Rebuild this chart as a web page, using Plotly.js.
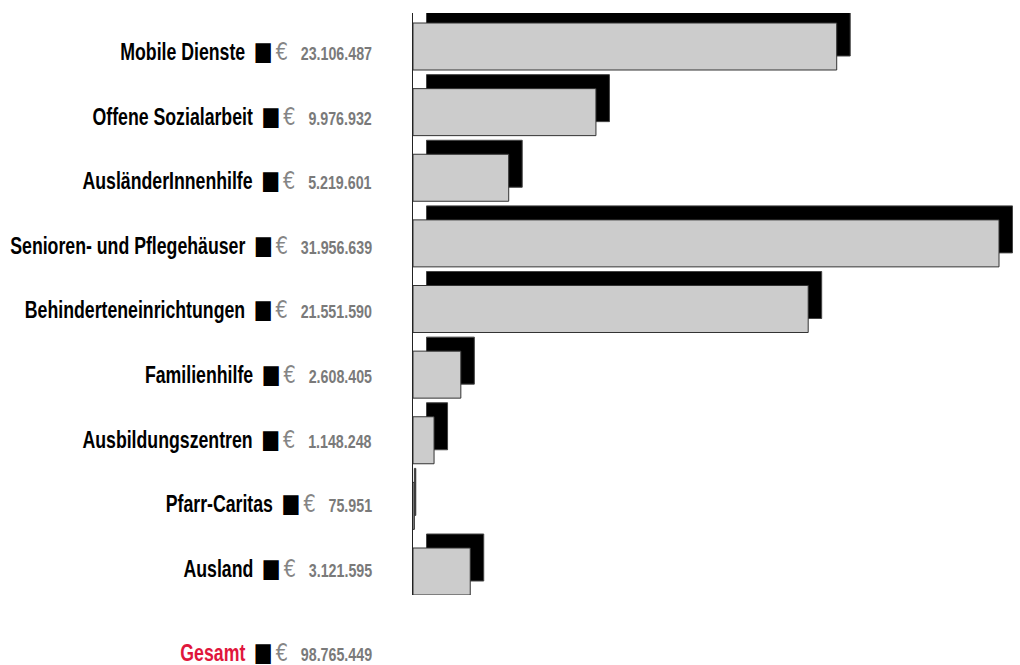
<!DOCTYPE html>
<html>
<head>
<meta charset="utf-8">
<script src="https://cdn.plot.ly/plotly-3.0.1.min.js"></script>
<style>
  html, body { margin: 0; padding: 0; background: #fff; }
  #chart { width: 1020px; height: 665px; }
</style>
</head>
<body>
<div id="chart"></div>
<script>
// ---- data ----
const categories = [
  "Mobile Dienste",
  "Offene Sozialarbeit",
  "AusländerInnenhilfe",
  "Senioren- und Pflegehäuser",
  "Behinderteneinrichtungen",
  "Familienhilfe",
  "Ausbildungszentren",
  "Pfarr-Caritas",
  "Ausland"
];
const values = [23106487, 9976932, 5219601, 31956639, 21551590, 2608405, 1148248, 75951, 3121595];
const totalLabel = "Gesamt";
const totalValue = 98765449;

// ---- layout constants ----
const W = 1020, H = 665;
const mL = 413, mR = 0, mT = 13, mB = 70;
const plotW = W - mL - mR, plotH = H - mT - mB;
const pxPerUnitRef = 586 / Math.max(...values);       // px per euro
const xMax = plotW / pxPerUnitRef;
const rowPitch = 65.625;                                // px per row
const yTop = -(46.5 - mT) / rowPitch;
const yBot = (values.length - 1) + (H - mB - 571.5) / rowPitch;
const barW = 47 / rowPitch;
const shadowDy = 14 / rowPitch;
const shadowDxUnits = 13.5 / pxPerUnitRef;
const SQUEEZE = 0.77;

const idx = categories.map((c, i) => i);
const fmt = n => String(n).replace(/\B(?=(\d{3})+(?!\d))/g, ".");

const FONT = "'Liberation Sans', Arial, sans-serif";

function labelHTML(name, value, nameColor) {
  return "<span style='color:" + nameColor + ";font-weight:bold;font-size:23px'>" + name + "</span>" +
    "<span style='font-size:20px'>&nbsp;&nbsp;</span>" +
    "<span style='font-family:DejaVu Sans;font-size:26px;color:#000'>■</span>" +
    "<span style='font-size:14px'>&nbsp;</span>" +
    "<span style='font-family:DejaVu Sans;font-size:25px;color:#858585;font-weight:normal'>€</span>" +
    "<span style='font-size:20px'>&nbsp;&nbsp;&nbsp;</span>" +
    "<span style='font-size:18.5px;color:#7a7a7a;font-weight:bold'>" + fmt(value) + "</span>";
}

const pxToPaper = px => 1 - (px - mT) / plotH;

const annotations = categories.map((c, i) => ({
  xref: "paper", yref: "paper",
  x: 0, xshift: -39,
  y: pxToPaper(51 + 64.6 * i),
  xanchor: "right", yanchor: "middle",
  text: labelHTML(c, values[i], "#000"),
  showarrow: false,
  font: { family: FONT, size: 23, color: "#000" }
}));
annotations.push({
  xref: "paper", yref: "paper",
  x: 0, xshift: -39,
  y: pxToPaper(651.5),
  xanchor: "right", yanchor: "middle",
  text: labelHTML(totalLabel, totalValue, "#e0163c"),
  showarrow: false,
  font: { family: FONT, size: 23, color: "#000" }
});

const shadow = {
  type: "bar", orientation: "h",
  y: idx,
  x: values,
  base: values.map(v => Math.min(shadowDxUnits, v)),
  width: barW,
  offset: -barW / 2 - shadowDy,
  marker: { color: "#000", line: { color: "#444", width: 1 } },
  hoverinfo: "skip"
};
const bars = {
  type: "bar", orientation: "h",
  y: idx,
  x: values,
  base: 0,
  width: barW,
  offset: -barW / 2,
  marker: { color: "#cccccc", line: { color: "#333", width: 1 } },
  hoverinfo: "skip"
};

const layout = {
  width: W, height: H,
  margin: { l: mL, r: mR, t: mT, b: mB, pad: 0 },
  paper_bgcolor: "#fff", plot_bgcolor: "#fff",
  barmode: "overlay",
  showlegend: false,
  font: { family: FONT },
  xaxis: { range: [0, xMax], showgrid: false, zeroline: false, showline: false, showticklabels: false, ticks: "" },
  yaxis: { range: [yBot, yTop], showgrid: false, zeroline: false, showline: true, linecolor: "#222", linewidth: 1.5, showticklabels: false, ticks: "" },
  annotations: annotations
};

Plotly.newPlot("chart", [shadow, bars], layout, { staticPlot: true, displayModeBar: false }).then(gd => {
  // condense label text horizontally (narrow grotesque look), keeping the right edge fixed
  gd.querySelectorAll("text.annotation-text").forEach(t => {
    const bb = t.getBBox();
    const r = bb.x + bb.width;
    t.setAttribute("transform", "translate(" + r + ",0) scale(" + SQUEEZE + ",1) translate(" + (-r) + ",0)");
  });
});
</script>
</body>
</html>
